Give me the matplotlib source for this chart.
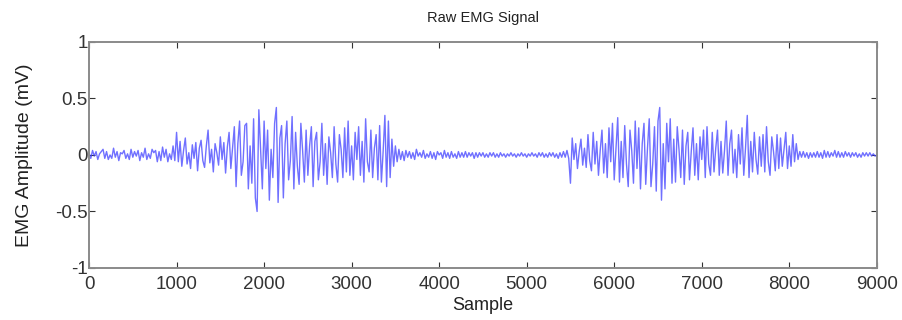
import numpy as np
import matplotlib
matplotlib.use("Agg")
import matplotlib.pyplot as plt

plt.rcParams['font.family'] = ['Liberation Sans', 'DejaVu Sans']

# one value every 20 samples (mV)
sample_step = 20

rest_a = [
    0.02, -0.03, 0.04, -0.01, 0.03, -0.04, 0.01, 0.03, 0.05, -0.03,
    0.03, -0.04, 0.00, -0.03, 0.06, -0.02, 0.03, -0.05, 0.02, 0.01,
    0.04, -0.03, 0.01, -0.04, 0.05, -0.02, 0.03, -0.01, 0.04, -0.05,
    0.02, -0.02, 0.06, -0.04, 0.01, -0.03, 0.05, 0.02, 0.04, -0.06,
    0.03, -0.05, 0.07, -0.02, 0.05, -0.06, 0.01, -0.04, 0.08, -0.05,
]

burst_a = [
    0.20, -0.06, 0.12, -0.10, 0.04, 0.15, -0.08, 0.02, -0.12, 0.09,
    -0.03, 0.11, -0.14, 0.06, 0.13, -0.05, -0.11, 0.08, 0.22, -0.07,
    0.05, -0.15, 0.10, 0.02, -0.09, 0.16, -0.04, 0.11, -0.16, 0.07,
    0.20, -0.12, 0.06, 0.25, -0.28, 0.10, 0.30, -0.18, -0.06, 0.26,
    0.28, -0.30, 0.08, -0.25, 0.32, -0.38, -0.50, 0.40, 0.06, -0.30,
    0.30, -0.12, 0.22, -0.40, 0.05, -0.20, 0.28, 0.42, -0.42, 0.15,
    0.26, -0.38, 0.10, 0.30, -0.22, -0.05, 0.34, -0.30, 0.20, -0.10,
    -0.26, 0.28, 0.04, -0.24, 0.22, -0.18, 0.08, 0.25, -0.28, 0.12,
    0.20, -0.22, -0.06, 0.28, -0.18, 0.10, -0.26, 0.16, 0.02, -0.20,
    0.25, -0.08, -0.24, 0.18, 0.05, -0.20, 0.24, -0.15, 0.30, -0.18,
    0.08, -0.22, 0.20, -0.04, 0.25, -0.18, 0.12, -0.24, 0.32, -0.06,
    -0.15, 0.22, -0.20, 0.06, 0.18, -0.22, 0.26, -0.24, 0.03, 0.35,
    -0.28, 0.30, -0.20, 0.14, -0.10,
]

rest_b = [
    0.08, -0.06, 0.05, -0.04, 0.03, -0.05, 0.04, -0.02, 0.03, -0.03,
    0.02, -0.04, 0.05, -0.01, 0.02, -0.02, 0.04, -0.03, 0.01, -0.02,
    0.03, -0.03, 0.02, -0.04, 0.03, 0.00, 0.02, -0.03, 0.04, -0.02,
    0.02, -0.03, 0.03, -0.02, 0.01, -0.03, 0.03, -0.02, 0.02, -0.02,
    0.03, -0.02, 0.02, -0.01, 0.02, -0.03, 0.02, -0.02, 0.02, -0.01,
    0.02, -0.02, 0.01, -0.02, 0.02, -0.01, 0.02, -0.02, 0.01, -0.02,
    0.02, -0.01, 0.01, -0.02, 0.01, -0.01, 0.02, -0.01, 0.01, -0.02,
    0.01, -0.01, 0.02, -0.01, 0.01, -0.02, 0.01, -0.01, 0.02, -0.01,
    0.01, -0.02, 0.02, -0.01, 0.02, -0.02, 0.01, -0.02, 0.02, -0.01,
    0.02, -0.02, 0.01, -0.03, 0.02, -0.02, 0.03, -0.02, 0.04, -0.03,
]

burst_b = [
    -0.25, 0.15, -0.04, 0.10, -0.12, 0.03, 0.14, -0.09, 0.06, -0.11,
    0.18, -0.05, -0.14, 0.20, -0.08, 0.12, -0.18, 0.04, 0.22, -0.16,
    0.10, -0.20, 0.24, -0.06, 0.28, -0.22, 0.05, 0.33, -0.24, 0.12,
    -0.20, 0.26, -0.08, -0.28, 0.22, 0.04, -0.25, 0.30, -0.12, 0.24,
    -0.30, 0.10, 0.28, -0.26, 0.06, 0.32, -0.28, -0.08, 0.25, -0.32,
    0.30, 0.42, -0.40, 0.10, -0.30, 0.28, -0.06, 0.32, -0.25, 0.14,
    -0.24, 0.25, 0.05, -0.20, 0.22, -0.26, 0.08, 0.20, -0.22, 0.03,
    0.24, -0.18, 0.10, -0.22, 0.16, -0.04, 0.22, -0.20, 0.25, -0.08,
    -0.18, 0.20, -0.15, 0.06, 0.22, -0.18, 0.12, -0.16, 0.04, 0.30,
    -0.18, 0.10, 0.22, -0.16, 0.05, -0.20, 0.18, -0.08, 0.24, -0.18,
    0.06, 0.35, -0.20, 0.12, -0.15, 0.20, -0.04, -0.17, 0.16, -0.10,
    0.18, -0.15, 0.25, -0.06, -0.18, 0.16, 0.03, -0.14, 0.18, -0.12,
    0.15, -0.10, 0.05, 0.20, -0.12, 0.08, -0.10, 0.18, -0.06, 0.10,
]

rest_c = [
    -0.04, 0.03, -0.02, 0.03, -0.02, 0.02, -0.03, 0.02, -0.02, 0.02,
    -0.02, 0.03, -0.02, 0.02, -0.03, 0.04, -0.02, 0.03, -0.02, 0.02,
    -0.01, 0.04, -0.02, 0.03, -0.02, 0.02, -0.02, 0.03, -0.01, 0.02,
    -0.02, 0.02, -0.01, 0.02, -0.02, 0.01, -0.02, 0.02, -0.01, 0.02,
    -0.01, 0.02, -0.01, 0.01, -0.01, 0.00,
]

x_ticks = [0, 1000, 2000, 3000, 4000, 5000, 6000, 7000, 8000, 9000]
y_ticks = [-1, -0.5, 0, 0.5, 1]
y_tick_labels = ['-1', '-0.5', '0', '0.5', '1']

emg = np.array(rest_a + burst_a + rest_b + burst_b + rest_c)
samples = np.arange(len(emg)) * sample_step

fig = plt.figure(figsize=(9.03, 3.2), dpi=100)
ax = fig.add_axes([0.0986, 0.1625, 0.8724, 0.7065])

ax.plot(samples, emg, color='#4040ff', linewidth=1.0, alpha=0.75)

ax.set_xlim(0, 9000)
ax.set_ylim(-1, 1)
ax.set_xticks(x_ticks)
ax.set_xticklabels([str(t) for t in x_ticks])
ax.set_yticks(y_ticks)
ax.set_yticklabels(y_tick_labels)

ax.tick_params(direction='in', length=4, width=0.8, top=True, right=True,
               labelsize=13.5, colors='#333333')
ax.tick_params(axis='x', pad=6)
ax.tick_params(axis='y', pad=1)
for s in ax.spines.values():
    s.set_color('#8a8a8a')
    s.set_linewidth(1.4)

ax.set_title('Raw EMG Signal', fontsize=10.5, color='#222222', pad=14)
ax.set_xlabel('Sample', fontsize=13, color='#222222', labelpad=3)
ax.set_ylabel('EMG Amplitude (mV)', fontsize=14, color='#222222', labelpad=16)

fig.savefig('out.png', dpi=100)
